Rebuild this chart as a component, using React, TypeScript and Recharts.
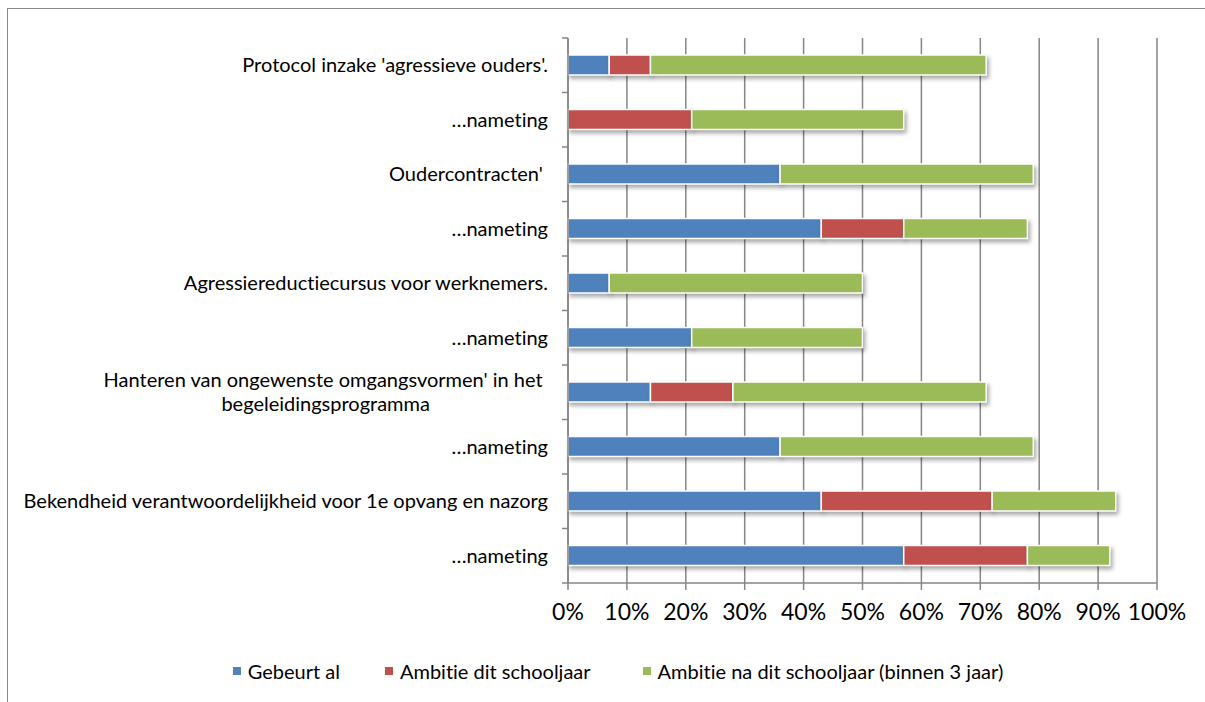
import React from "react";
import {
  BarChart,
  Bar,
  XAxis,
  YAxis,
  CartesianGrid,
  Legend,
} from "recharts";

const categories = [
  "Protocol inzake 'agressieve ouders'.",
  "…nameting",
  "Oudercontracten' ",
  "…nameting",
  "Agressiereductiecursus voor werknemers.",
  "…nameting",
  "Hanteren van ongewenste omgangsvormen' in het \nbegeleidingsprogramma",
  "…nameting",
  "Bekendheid verantwoordelijkheid voor 1e opvang en nazorg",
  "…nameting",
];

const gebeurtAl = [7, 0, 36, 43, 7, 21, 14, 36, 43, 57];
const ambitieDit = [7, 21, 0, 14, 0, 0, 14, 0, 29, 21];
const ambitieNa = [57, 36, 43, 21, 43, 29, 43, 43, 21, 14];

const xTicks = [0, 10, 20, 30, 40, 50, 60, 70, 80, 90, 100];

const SERIES = [
  { key: "gebeurt", name: "Gebeurt al", color: "#4F81BD" },
  { key: "dit", name: "Ambitie dit schooljaar", color: "#C0504D" },
  { key: "na", name: "Ambitie na dit schooljaar (binnen 3 jaar)", color: "#9BBB59" },
];

const data = categories.map((name, i) => ({
  name,
  gebeurt: gebeurtAl[i],
  dit: ambitieDit[i],
  na: ambitieNa[i],
}));

const AXIS = "#868686";
const FONT = "Lato, 'Open Sans', sans-serif";
const LABEL_SIZE = 20;
const PLOT_TOP = 38;
const PLOT_BOTTOM = 583;
const AXIS_X = 568;
const BAND = (PLOT_BOTTOM - PLOT_TOP) / categories.length;

let measureCtx: CanvasRenderingContext2D | null = null;
function textWidth(s: string) {
  if (!measureCtx) measureCtx = document.createElement("canvas").getContext("2d");
  if (!measureCtx) return s.length * LABEL_SIZE * 0.5;
  measureCtx.font = `${LABEL_SIZE}px Lato`;
  return measureCtx.measureText(s).width;
}

// category label plus the boundary tick marks Excel draws between rows
function CategoryTick(props: any) {
  const { y, payload, index } = props;
  const lines = String(payload.value).split("\n");
  const top = y - BAND / 2;
  const textX = AXIS_X - 20;
  const multi = lines.length > 1;
  // wrapped labels are centred on the block, like Excel does
  const centre = multi ? textX - Math.max(...lines.map(textWidth)) / 2 : textX;
  return (
    <g>
      <line x1={AXIS_X - 6} x2={AXIS_X} y1={top} y2={top} stroke={AXIS} strokeWidth={1.5} />
      {index === categories.length - 1 && (
        <line
          x1={AXIS_X - 6}
          x2={AXIS_X}
          y1={top + BAND}
          y2={top + BAND}
          stroke={AXIS}
          strokeWidth={1.5}
        />
      )}
      {lines.map((line, li) => (
        <text
          key={li}
          x={centre}
          y={y + (li - (lines.length - 1) / 2) * 24}
          dy="0.35em"
          textAnchor={multi ? "middle" : "end"}
          fill="#000"
          fontSize={LABEL_SIZE}
          fontFamily={FONT}
          style={{ whiteSpace: "pre" }}
        >
          {line}
        </text>
      ))}
    </g>
  );
}

function LegendContent() {
  return (
    <div
      style={{
        height: 30,
        display: "flex",
        justifyContent: "center",
        alignItems: "center",
        fontFamily: FONT,
        fontSize: 20,
        color: "#000",
        paddingLeft: 79,
      }}
    >
      {SERIES.map((s, i) => (
        <div
          key={s.key}
          style={{
            display: "flex",
            alignItems: "center",
            marginRight: i === 0 ? 45 : i === 1 ? 52 : 0,
          }}
        >
          <span
            style={{
              width: 8,
              height: 8,
              background: s.color,
              display: "inline-block",
              marginRight: 7,
            }}
          />
          <span>{s.name}</span>
        </div>
      ))}
    </div>
  );
}

export default function App() {
  return (
    <div style={{ position: "absolute", left: 0, top: 0, width: 1205, height: 702, overflow: "hidden", background: "#fff" }}>
      <style>{`
        .recharts-bar-rectangle path { filter: drop-shadow(2px 3px 2px rgba(0,0,0,0.35)); }
        svg text, div { font-variant-ligatures: none; font-feature-settings: "liga" 0; }
      `}</style>
      <div
        style={{
          position: "absolute",
          left: 7,
          top: 8,
          width: 1400,
          height: 900,
          borderTop: "1.5px solid #8a8a8a",
          borderLeft: "1.5px solid #8a8a8a",
        }}
      />
      <div style={{ position: "absolute", left: 0, top: 0 }}>
        <BarChart
          width={1205}
          height={702}
          data={data}
          layout="vertical"
          margin={{ top: PLOT_TOP, right: 48, bottom: 16, left: 0 }}
          barSize={20}
        >
          <CartesianGrid horizontal={false} vertical stroke={AXIS} strokeWidth={1.5} />
          <XAxis
            type="number"
            domain={[0, 100]}
            ticks={xTicks}
            tickFormatter={(v) => `${v}%`}
            height={73}
            axisLine={{ stroke: AXIS, strokeWidth: 1.5 }}
            tickLine={{ stroke: AXIS, strokeWidth: 1.5 }}
            tickSize={7}
            tickMargin={14}
            tick={{ fill: "#000", fontSize: 23, fontFamily: FONT }}
            interval={0}
          />
          <YAxis
            type="category"
            dataKey="name"
            width={568}
            axisLine={{ stroke: AXIS, strokeWidth: 1.5 }}
            tickLine={false}
            tick={<CategoryTick />}
            interval={0}
          />
          <Legend verticalAlign="bottom" height={30} content={<LegendContent />} />
          {SERIES.map((s) => (
            <Bar
              key={s.key}
              dataKey={s.key}
              name={s.name}
              stackId="a"
              fill={s.color}
              stroke="#fff"
              strokeWidth={1.5}
              isAnimationActive={false}
            />
          ))}
        </BarChart>
      </div>
    </div>
  );
}
